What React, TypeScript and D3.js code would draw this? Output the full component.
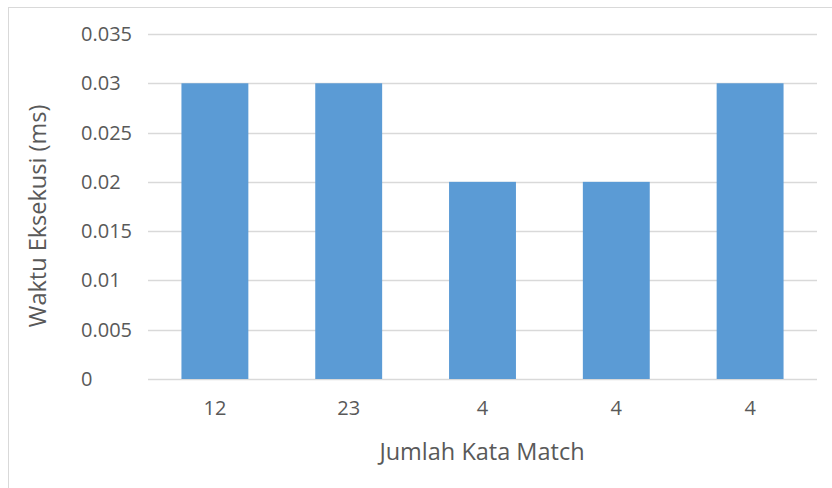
import React from "react";
import * as d3 from "d3";

const categories = ["12", "23", "4", "4", "4"];
const values = [0.03, 0.03, 0.02, 0.02, 0.03];
const yTicks = [0, 0.005, 0.01, 0.015, 0.02, 0.025, 0.03, 0.035];
const yTickLabels = ["0", "0.005", "0.01", "0.015", "0.02", "0.025", "0.03", "0.035"];
const xTitle = "Jumlah Kata Match";
const yTitle = "Waktu Eksekusi (ms)";

const W = 832;
const H = 488;
const plot = { left: 148, right: 817, top: 34, bottom: 379 };
const FONT = "'Open Sans', 'Noto Sans', sans-serif";
const TEXT = "#595959";

export default function App() {
  const x = d3
    .scaleBand<number>()
    .domain(categories.map((_, i) => i))
    .range([plot.left, plot.right])
    .paddingInner(0.5)
    .paddingOuter(0.25);
  const y = d3.scaleLinear().domain([0, 0.035]).range([plot.bottom, plot.top]);

  return (
    <svg
      width={W}
      height={H}
      style={{ position: "absolute", left: 0, top: 0, background: "#fff" }}
      fontFamily={FONT}
    >
      <rect x={8.5} y={7.5} width={W} height={H} fill="#fff" stroke="#D9D9D9" strokeWidth={1} />
      {yTicks.map((t, i) => (
        <g key={i}>
          <line
            x1={plot.left}
            x2={plot.right}
            y1={Math.round(y(t)) + 0.5}
            y2={Math.round(y(t)) + 0.5}
            stroke="#D9D9D9"
            strokeWidth={1.3}
          />
          <text x={81} y={y(t)} dy="0.35em" fontSize={20} fill={TEXT} textAnchor="start">
            {yTickLabels[i]}
          </text>
        </g>
      ))}
      {values.map((v, i) => (
        <rect
          key={i}
          x={x(i)!}
          y={y(v)}
          width={x.bandwidth()}
          height={y(0) - y(v)}
          fill="#5B9BD5"
        />
      ))}
      {categories.map((c, i) => (
        <text
          key={i}
          x={x(i)! + x.bandwidth() / 2}
          y={408}
          dy="0.35em"
          fontSize={20}
          fill={TEXT}
          textAnchor="middle"
        >
          {c}
        </text>
      ))}
      <text x={482} y={452} dy="0.35em" fontSize={23.5} fill={TEXT} textAnchor="middle">
        {xTitle}
      </text>
      <text
        transform={`translate(38,216) rotate(-90)`}
        dy="0.35em"
        fontSize={23.5}
        fill={TEXT}
        textAnchor="middle"
      >
        {yTitle}
      </text>
    </svg>
  );
}
